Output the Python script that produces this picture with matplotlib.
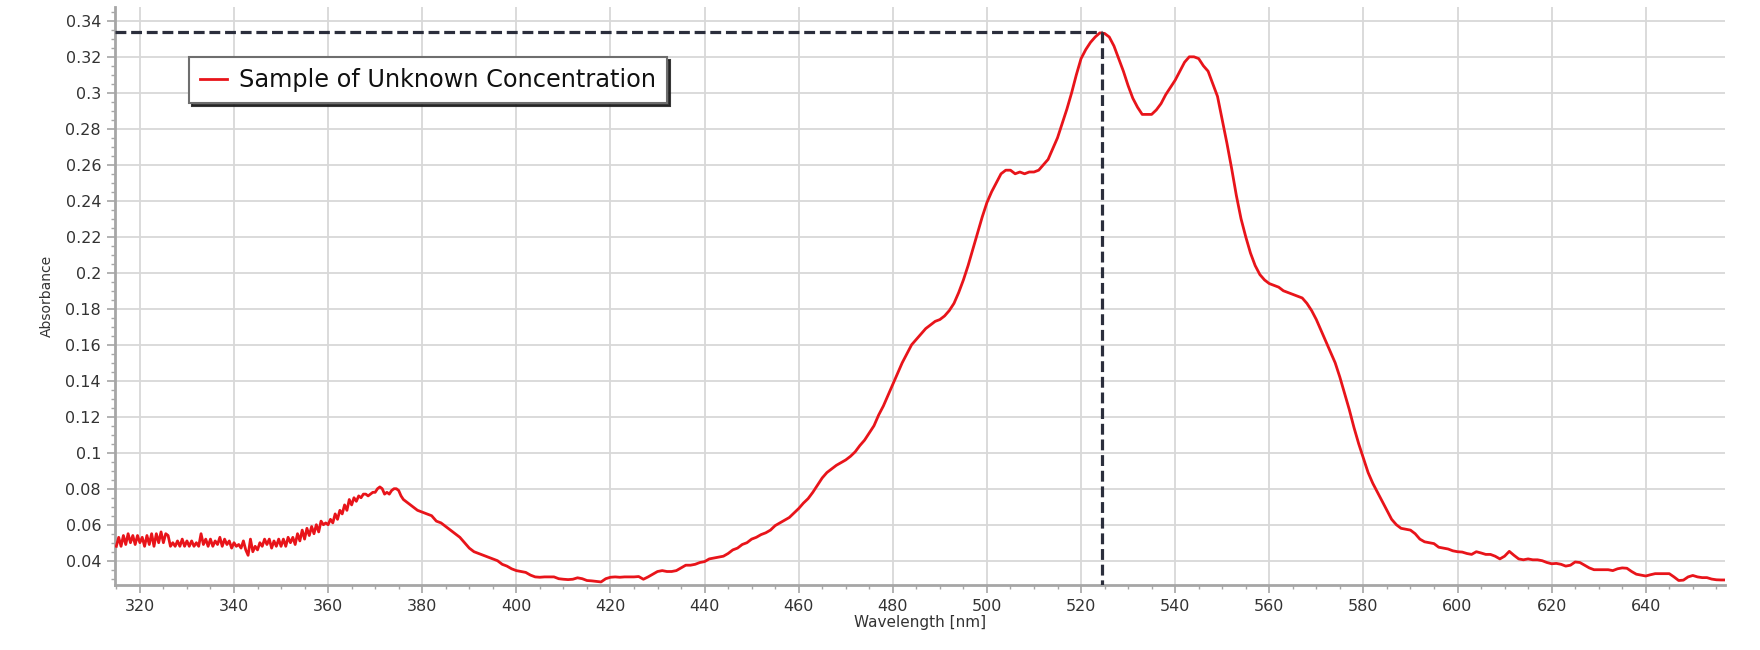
import numpy as np
import matplotlib
matplotlib.use("Agg")
import matplotlib.pyplot as plt
from matplotlib.ticker import MultipleLocator, FuncFormatter

# UV part of the scan, 0.5 nm steps (noisy)
wl_uv = np.arange(315.0, 378.5, 0.5)
abs_uv = [
    0.048, 0.053, 0.048, 0.054, 0.049, 0.055, 0.050, 0.054, 0.049, 0.054,
    0.050, 0.053, 0.048, 0.054, 0.049, 0.055, 0.048, 0.055, 0.050, 0.056,
    0.050, 0.055, 0.054, 0.048, 0.050, 0.048, 0.051, 0.048, 0.052, 0.048,
    0.051, 0.048, 0.051, 0.048, 0.050, 0.048, 0.055, 0.049, 0.052, 0.048,
    0.052, 0.048, 0.051, 0.049, 0.053, 0.048, 0.052, 0.049, 0.051, 0.047,
    0.050, 0.048, 0.049, 0.047, 0.051, 0.046, 0.043, 0.052, 0.045, 0.048,
    0.046, 0.050, 0.048, 0.052, 0.049, 0.052, 0.047, 0.051, 0.048, 0.052,
    0.048, 0.052, 0.048, 0.053, 0.050, 0.053, 0.049, 0.055, 0.051, 0.057,
    0.052, 0.058, 0.054, 0.059, 0.055, 0.060, 0.056, 0.062, 0.060, 0.061,
    0.060, 0.063, 0.061, 0.066, 0.063, 0.068, 0.066, 0.071, 0.068, 0.074,
    0.071, 0.075, 0.073, 0.076, 0.075, 0.077, 0.077, 0.076, 0.077, 0.078,
    0.078, 0.080, 0.081, 0.080, 0.077, 0.078, 0.077, 0.079, 0.080, 0.080,
    0.079, 0.076, 0.074, 0.073, 0.072, 0.071, 0.070,
]

# visible part, 1 nm steps
wl_vis = np.arange(379, 658)
abs_vis = [
    0.068, 0.067, 0.066, 0.065, 0.062, 0.061, 0.059, 0.057, 0.055, 0.053,
    0.050, 0.047, 0.045, 0.044, 0.043, 0.042, 0.041, 0.040, 0.038, 0.037,
    0.0355, 0.0345, 0.034, 0.0335, 0.032, 0.031, 0.0308, 0.031, 0.031, 0.031,
    0.030, 0.0297, 0.0295, 0.0297, 0.0305, 0.030, 0.029, 0.0288, 0.0285, 0.0282,
    0.030, 0.0308, 0.031, 0.0308, 0.031, 0.031, 0.031, 0.0312, 0.0297, 0.031,
    0.0325, 0.034, 0.0345, 0.034, 0.034, 0.0345, 0.036, 0.0375, 0.0375, 0.038,
    0.039, 0.0395, 0.041, 0.0415, 0.042, 0.0425, 0.044, 0.046, 0.047, 0.049,
    0.050, 0.052, 0.053, 0.0545, 0.0555, 0.057, 0.0595, 0.061, 0.0625, 0.064,
    0.0665, 0.069, 0.072, 0.0745, 0.078, 0.082, 0.086, 0.089, 0.091, 0.093,
    0.0945, 0.096, 0.098, 0.1005, 0.104, 0.107, 0.111, 0.115, 0.121, 0.126,
    0.132, 0.138, 0.144, 0.150, 0.155, 0.160, 0.163, 0.166, 0.169, 0.171,
    0.173, 0.174, 0.176, 0.179, 0.183, 0.189, 0.196, 0.204, 0.213, 0.222,
    0.231, 0.239, 0.245, 0.250, 0.255, 0.257, 0.257, 0.255, 0.256, 0.255,
    0.256, 0.256, 0.257, 0.260, 0.263, 0.269, 0.275, 0.283, 0.291, 0.300,
    0.310, 0.319, 0.324, 0.328, 0.331, 0.3333, 0.3330, 0.331, 0.326, 0.319,
    0.312, 0.304, 0.297, 0.292, 0.288, 0.288, 0.288, 0.2905, 0.294, 0.299,
    0.303, 0.307, 0.312, 0.317, 0.320, 0.320, 0.319, 0.315, 0.312, 0.305,
    0.298, 0.285, 0.272, 0.258, 0.243, 0.230, 0.220, 0.211, 0.204, 0.199,
    0.196, 0.194, 0.193, 0.192, 0.190, 0.189, 0.188, 0.187, 0.186, 0.183,
    0.179, 0.174, 0.168, 0.162, 0.156, 0.150, 0.142, 0.133, 0.124, 0.114,
    0.105, 0.097, 0.089, 0.083, 0.078, 0.073, 0.068, 0.063, 0.060, 0.058,
    0.0575, 0.057, 0.055, 0.052, 0.0505, 0.050, 0.0495, 0.0475, 0.047, 0.0465,
    0.0455, 0.045, 0.0448, 0.044, 0.0435, 0.045, 0.0443, 0.0435, 0.0435, 0.0425,
    0.041, 0.0425, 0.0452, 0.043, 0.041, 0.0405, 0.041, 0.0405, 0.0405, 0.040,
    0.039, 0.0383, 0.0385, 0.038, 0.037, 0.0375, 0.0393, 0.039, 0.0375, 0.036,
    0.035, 0.035, 0.035, 0.035, 0.0345, 0.0355, 0.036, 0.0358, 0.034, 0.0325,
    0.032, 0.0315, 0.0322, 0.0328, 0.0328, 0.0328, 0.0328, 0.031, 0.029, 0.0292,
    0.031, 0.0318, 0.031, 0.0306, 0.0306, 0.0298, 0.0294, 0.0293, 0.0293,
]

# peak marker (lambda max)
peak_nm = 524.4
peak_abs = 0.3337

series_label = "Sample of Unknown Concentration"
x_ticks = list(range(320, 641, 20))

wavelength = np.concatenate([wl_uv, wl_vis])
absorbance = np.concatenate([abs_uv, abs_vis])

xmin, xmax = 314.7, 656.8
ymin, ymax = 0.0265, 0.3476

fig = plt.figure(figsize=(17.6, 6.5), dpi=100)
ax = fig.add_axes([0.0653, 0.1, 0.9147, 0.889])

grid_col = "#d8d8d8"
axis_col = "#a6a6a6"
text_col = "#333333"

ax.plot(wavelength, absorbance, color="#e8141a", lw=2.0, label=series_label, zorder=3)

# dashed guide lines to the peak
dash_col = "#2b2e3c"
ax.plot([xmin, peak_nm], [peak_abs, peak_abs], color=dash_col, lw=2.3,
        linestyle=(0, (3.4, 1.5)), zorder=4)
ax.plot([peak_nm, peak_nm], [peak_abs, ymin], color=dash_col, lw=2.3,
        linestyle=(0, (3.4, 1.5)), zorder=4)

ax.set_xlim(xmin, xmax)
ax.set_ylim(ymin, ymax)
ax.set_xticks(x_ticks)
ax.xaxis.set_minor_locator(MultipleLocator(5))
ax.yaxis.set_major_locator(MultipleLocator(0.02))
ax.yaxis.set_minor_locator(MultipleLocator(0.005))
ax.yaxis.set_major_formatter(FuncFormatter(lambda v, p: "%g" % round(v, 3)))
ax.set_yticks([v for v in ax.get_yticks() if 0.039 < v < 0.341])

ax.grid(True, which="major", color=grid_col, lw=1.3, zorder=0)
for s in ["top", "right"]:
    ax.spines[s].set_visible(False)
for s in ["left", "bottom"]:
    ax.spines[s].set_color(axis_col)
    ax.spines[s].set_linewidth(2)

ax.tick_params(which="major", length=6, width=1.2, color=axis_col,
               labelsize=11.5, labelcolor=text_col, pad=4)
ax.tick_params(which="minor", length=3, width=1, color=axis_col)

ax.set_xlabel("Wavelength [nm]", fontsize=11, color=text_col, labelpad=1)
ax.set_ylabel("Absorbance", fontsize=10, color=text_col, labelpad=8)

leg = ax.legend(loc="upper left", bbox_to_anchor=(0.046, 0.9135), borderaxespad=0,
                fontsize=17.3, frameon=True, fancybox=False,
                shadow={"color": "#222222", "alpha": 0.9},
                edgecolor="#6e6e6e", handlelength=1.15, handletextpad=0.5,
                borderpad=0.45)
leg.get_frame().set_linewidth(1.5)
for t in leg.get_texts():
    t.set_color("#111111")

fig.savefig("out.png", dpi=100, facecolor="white")
